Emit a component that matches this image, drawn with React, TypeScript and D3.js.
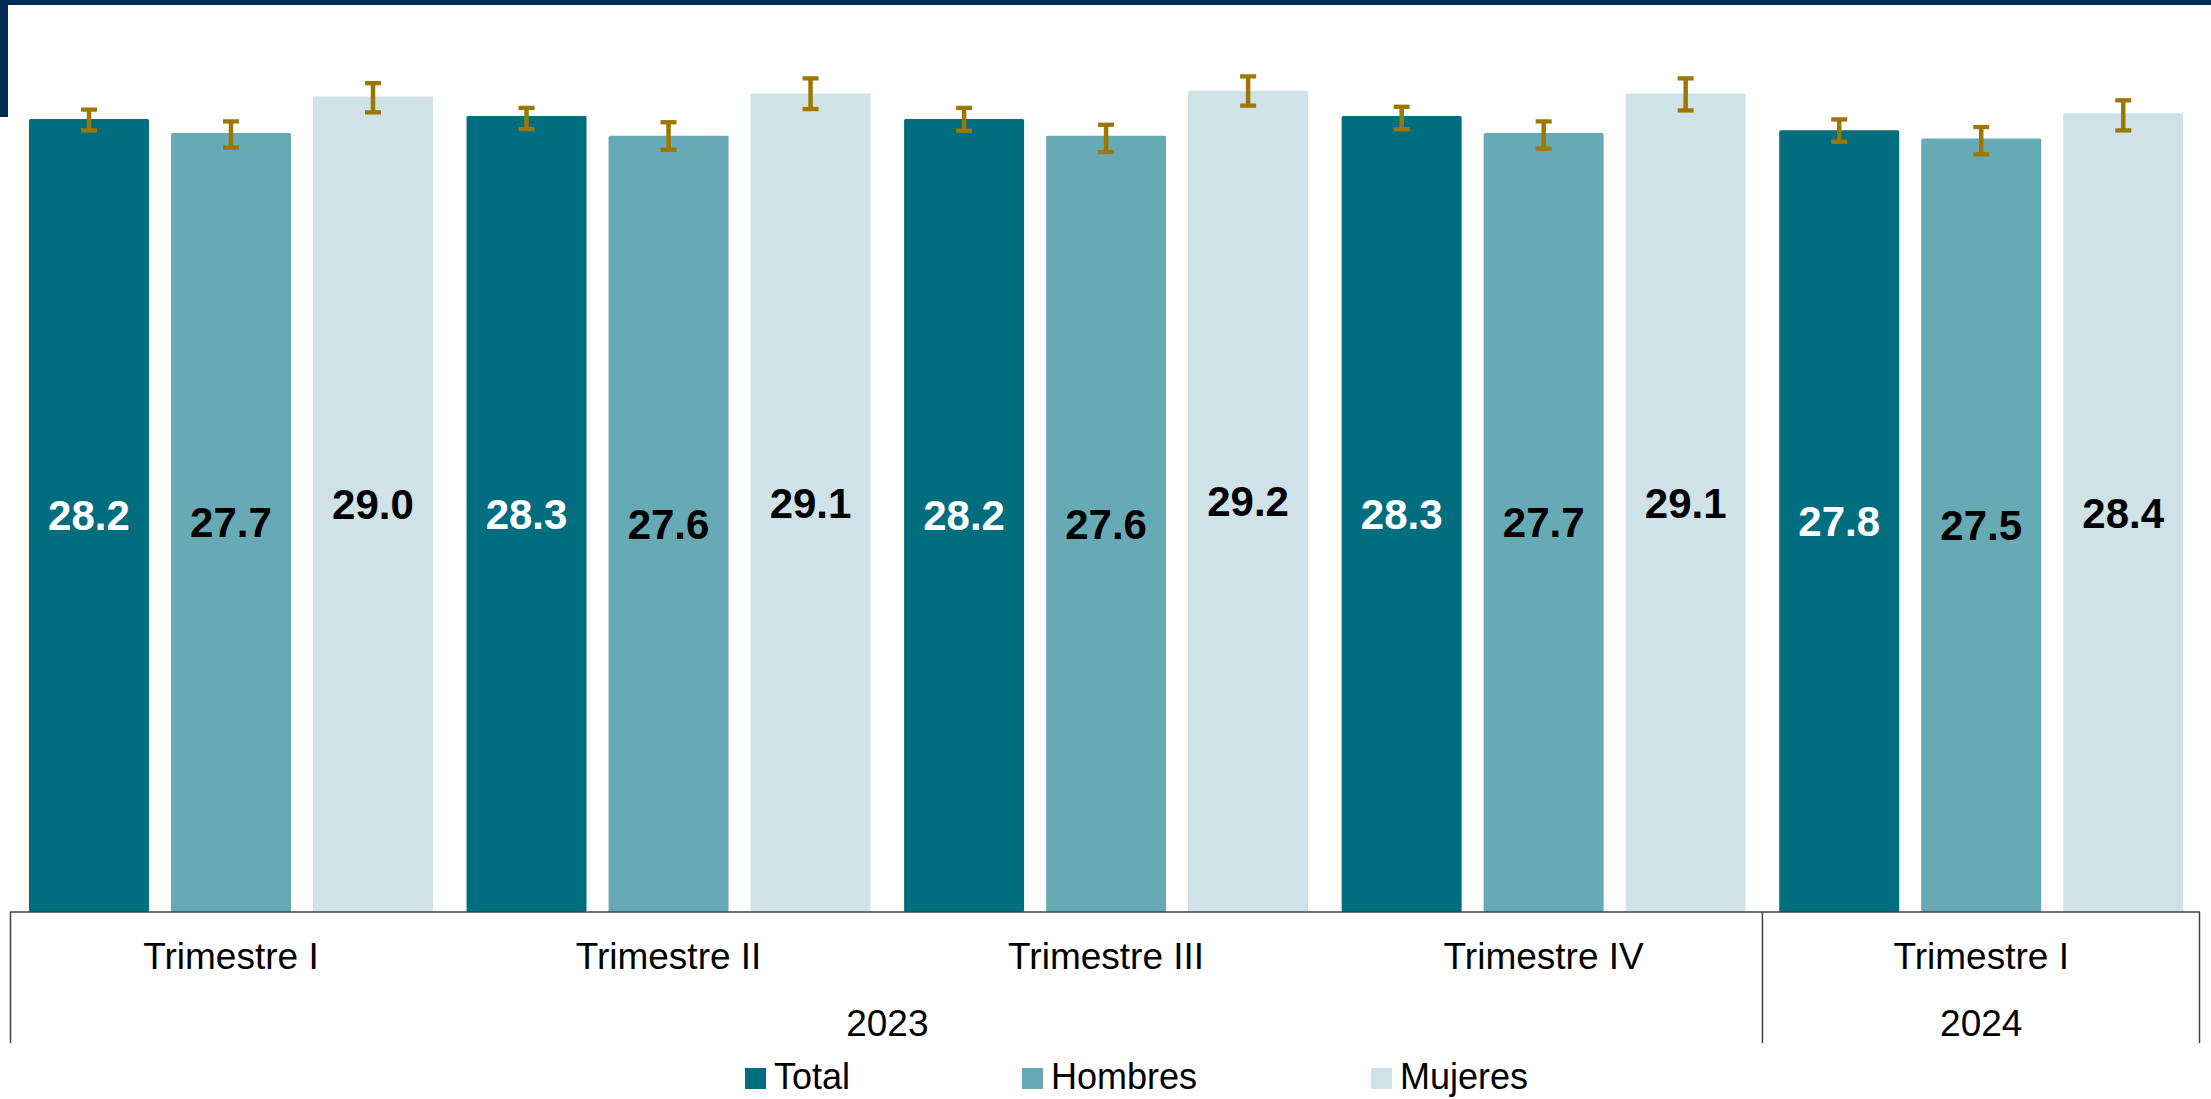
import React from "react";
import * as d3 from "d3";

const quarters = ["Trimestre I", "Trimestre II", "Trimestre III", "Trimestre IV", "Trimestre I"];
const years = [
  { label: "2023", first: 0, last: 3 },
  { label: "2024", first: 4, last: 4 },
];
const seriesNames = ["Total", "Hombres", "Mujeres"];
const total = [28.2, 28.3, 28.2, 28.3, 27.8];
const hombres = [27.7, 27.6, 27.6, 27.7, 27.5];
const mujeres = [29.0, 29.1, 29.2, 29.1, 28.4];
const totalLow = [27.79, 27.84, 27.78, 27.83, 27.39];
const totalHigh = [28.53, 28.59, 28.59, 28.63, 28.18];
const hombresLow = [27.18, 27.1, 27.02, 27.14, 26.94];
const hombresHigh = [28.11, 28.08, 27.99, 28.11, 27.91];
const mujeresLow = [28.43, 28.55, 28.67, 28.5, 27.79];
const mujeresHigh = [29.47, 29.64, 29.71, 29.64, 28.86];

const colors = ["#006E7F", "#67A9B5", "#CEE2E7"];
const labelColors = ["#FFFFFF", "#000000", "#000000"];
const errColor = "#9E7700";
const navy = "#002D57";
const axisColor = "#404040";
const FONT = "'Liberation Sans', Arial, Helvetica, sans-serif";

const W = 2211;
const H = 1099;

export default function App() {
  const values = [total, hombres, mujeres];
  const lows = [totalLow, hombresLow, mujeresLow];
  const highs = [totalHigh, hombresHigh, mujeresHigh];

  const x = d3
    .scaleBand<number>()
    .domain(d3.range(quarters.length))
    .range([12.2, 2200])
    .paddingInner(0)
    .paddingOuter(0);
  const gw = x.bandwidth();
  const inner = d3
    .scaleBand<string>()
    .domain(seriesNames)
    .range([(gw - 404) / 2, (gw + 404) / 2])
    .paddingInner(0.155)
    .paddingOuter(0);
  const y = d3.scaleLinear().domain([0, 32]).range([912, 12]);
  const base = y(0);
  const bw = inner.bandwidth();

  const legendX = [745, 1022, 1371];

  return (
    <div style={{ position: "absolute", left: 0, top: 0 }}>
      <svg width={W} height={H} style={{ display: "block", background: "#fff" }}>
        {/* top decoration */}
        <rect x={0} y={0} width={W} height={5} fill={navy} />
        <rect x={0} y={0} width={8} height={117} fill={navy} />

        {/* bars */}
        {seriesNames.map((s, si) => (
          <g key={s}>
            {values[si].map((v, qi) => {
              const bx = (x(qi) as number) + (inner(s) as number);
              return (
                <rect
                  key={qi}
                  x={bx}
                  y={y(v)}
                  width={bw}
                  height={base - y(v)}
                  fill={colors[si]}
                  rx={1.5}
                />
              );
            })}
          </g>
        ))}

        {/* error bars */}
        {seriesNames.map((s, si) => (
          <g key={"e" + s} stroke={errColor} fill="none">
            {values[si].map((v, qi) => {
              const cx = (x(qi) as number) + (inner(s) as number) + bw / 2;
              const yl = y(lows[si][qi]);
              const yh = y(highs[si][qi]);
              return (
                <g key={qi}>
                  <line x1={cx} x2={cx} y1={yh} y2={yl} strokeWidth={4.5} />
                  <line x1={cx - 8} x2={cx + 8} y1={yh} y2={yh} strokeWidth={4.3} />
                  <line x1={cx - 8} x2={cx + 8} y1={yl} y2={yl} strokeWidth={4.3} />
                </g>
              );
            })}
          </g>
        ))}

        {/* value labels */}
        {seriesNames.map((s, si) => (
          <g key={"l" + s}>
            {values[si].map((v, qi) => {
              const cx = (x(qi) as number) + (inner(s) as number) + bw / 2;
              const my = (y(v) + base) / 2;
              return (
                <text
                  key={qi}
                  x={cx}
                  y={my + 15}
                  textAnchor="middle"
                  fontFamily={FONT}
                  fontWeight="bold"
                  fontSize={42}
                  fill={labelColors[si]}
                >
                  {d3.format(".1f")(v)}
                </text>
              );
            })}
          </g>
        ))}

        {/* category axis */}
        <line x1={10} x2={2200} y1={base} y2={base} stroke={axisColor} strokeWidth={1.5} />
        {[10.5, x(4) as number, 2199.5].map((lx, i) => (
          <line key={i} x1={lx} x2={lx} y1={base} y2={1043} stroke={axisColor} strokeWidth={1.5} />
        ))}
        {quarters.map((q, qi) => (
          <text
            key={qi}
            x={(x(qi) as number) + gw / 2}
            y={969}
            textAnchor="middle"
            fontFamily={FONT}
            fontSize={37}
            fill="#000"
          >
            {q}
          </text>
        ))}
        {years.map((yr) => {
          const x0 = x(yr.first) as number;
          const x1 = (x(yr.last) as number) + gw;
          return (
            <text
              key={yr.label}
              x={(x0 + x1) / 2}
              y={1036}
              textAnchor="middle"
              fontFamily={FONT}
              fontSize={37}
              fill="#000"
            >
              {yr.label}
            </text>
          );
        })}

        {/* legend */}
        {seriesNames.map((s, si) => (
          <g key={"lg" + s}>
            <rect x={legendX[si]} y={1068} width={21} height={21} fill={colors[si]} />
            <text
              x={legendX[si] + 29}
              y={1089}
              fontFamily={FONT}
              fontSize={36}
              fill="#000"
            >
              {s}
            </text>
          </g>
        ))}
      </svg>
    </div>
  );
}
